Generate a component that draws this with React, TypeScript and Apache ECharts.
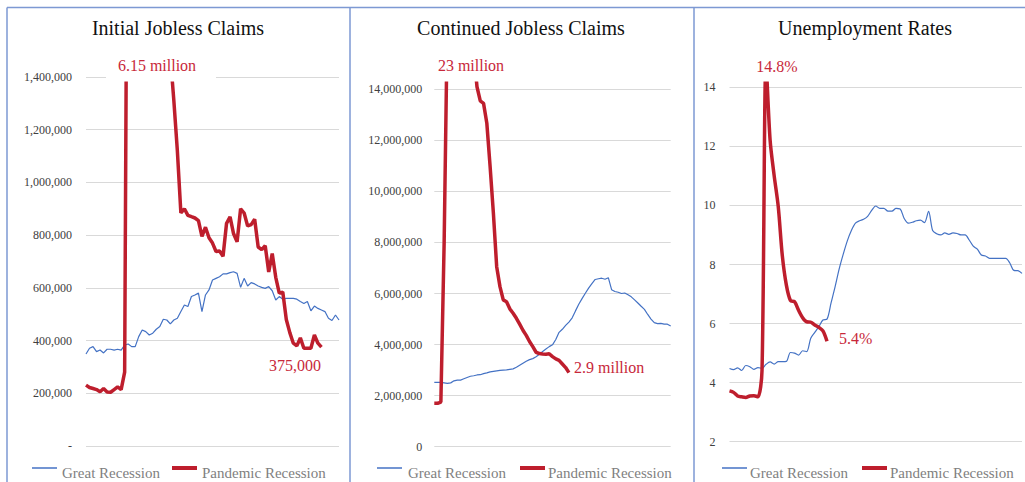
import React, { useEffect, useRef } from "react";
import * as echarts from "echarts";

// ---- Data ----
const periods: string[] = Array.from({ length: 73 }, (_, i) => String(i + 1));

const greatInitial = [
  349000, 371000, 377000, 358000, 364000, 353000, 367000, 367000, 364000, 367000,
  364000, 383000, 387000, 377000, 377000, 415000, 440000, 434000, 421000, 428000,
  443000, 453000, 481000, 478000, 463000, 478000, 485000, 510000, 535000, 529000,
  567000, 573000, 580000, 510000, 573000, 592000, 630000, 636000, 642000, 653000,
  653000, 658000, 661000, 655000, 602000, 636000, 607000, 620000, 615000, 607000,
  602000, 598000, 605000, 589000, 554000, 567000, 557000, 560000, 560000, 560000,
  557000, 548000, 541000, 548000, 513000, 531000, 522000, 516000, 510000, 485000,
  476000, 497000, 478000,
];
const pandemicInitial = [
  231000, 222000, 218000, 214000, 206000, 218000, 205000, 204000, 214000, 224000,
  214000, 280000, 2914000, 6150000, 5500000, 4800000, 4200000, 3700000, 3200000, 2800000,
  2400000, 2100000, 1900000, 1700000, 1480000, 1310000, 1120000, 884000, 900000, 875000,
  870000, 865000, 855000, 795000, 830000, 790000, 770000, 738000, 740000, 720000,
  845000, 869000, 805000, 775000, 900000, 884000, 835000, 840000, 860000, 755000,
  745000, 760000, 660000, 730000, 640000, 580000, 584000, 480000, 430000, 390000,
  380000, 410000, 371000, 371000, 371000, 421000, 390000, 375000,
];

const greatContinued = [
  2520000, 2520000, 2520000, 2500000, 2480000, 2500000, 2580000, 2610000, 2610000, 2660000,
  2710000, 2760000, 2780000, 2810000, 2820000, 2860000, 2890000, 2930000, 2950000, 2970000,
  2990000, 3000000, 3010000, 3030000, 3050000, 3110000, 3190000, 3270000, 3350000, 3410000,
  3450000, 3520000, 3620000, 3730000, 3830000, 3920000, 3990000, 4200000, 4480000, 4600000,
  4750000, 4880000, 5050000, 5320000, 5580000, 5800000, 6010000, 6210000, 6390000, 6550000,
  6580000, 6600000, 6560000, 6620000, 6150000, 6080000, 6050000, 6000000, 6020000, 5950000,
  5870000, 5750000, 5630000, 5500000, 5380000, 5180000, 5000000, 4860000, 4820000, 4830000,
  4800000, 4800000, 4730000,
];
const pandemicContinued = [
  1700000, 1700000, 1750000, 8000000, 17000000, 21000000, 23000000, 22500000, 21000000, 20000000,
  18500000, 17000000, 15500000, 14100000, 13550000, 13450000, 12670000, 10970000, 9140000, 7050000,
  6270000, 5750000, 5680000, 5400000, 5230000, 5030000, 4800000, 4560000, 4360000, 4120000,
  3920000, 3700000, 3650000, 3630000, 3620000, 3640000, 3530000, 3440000, 3380000, 3240000,
  3100000, 2900000,
];

const greatUnemp = [
  4.48, 4.44, 4.5, 4.41, 4.58, 4.54, 4.45, 4.51, 4.48, 4.62,
  4.7, 4.63, 4.71, 4.71, 4.72, 5.02, 5.0, 4.93, 5.08, 5.05,
  5.5, 5.7, 5.9, 6.12, 6.15, 6.7, 7.25, 7.85, 8.35, 8.8,
  9.15, 9.4, 9.48, 9.53, 9.63, 9.83, 9.98, 9.9, 9.9, 9.81,
  9.81, 9.9, 9.88, 9.56, 9.4, 9.43, 9.48, 9.5, 9.42, 9.8,
  9.15, 9.04, 9.0, 9.07, 9.02, 9.07, 9.05, 9.0, 9.0, 8.83,
  8.62, 8.52, 8.32, 8.29, 8.21, 8.21, 8.21, 8.21, 8.21, 8.05,
  7.8, 7.79, 7.7,
];
const pandemicUnemp = [
  3.72, 3.67, 3.55, 3.52, 3.5, 3.55, 3.56, 3.52, 4.4, 14.8,
  12.2, 11.0, 9.96, 8.3, 7.3, 6.78, 6.74, 6.45, 6.2, 6.06,
  6.05, 5.95, 5.87, 5.75, 5.4,
];

const titles = ["Initial Jobless Claims", "Continued Jobless Claims", "Unemployment Rates"];
const seriesNames = ["Great Recession", "Pandemic Recession"];
const peakLabels = ["6.15 million", "23 million", "14.8%"];
const endLabels = ["375,000", "2.9 million", "5.4%"];

// ---- Layout / style ----
const FONT = "'Liberation Serif', 'Times New Roman', serif";
const BLUE = "#4472c4";
const RED = "#be1e2d";
const RED_TEXT = "#c8283a";
const GRID_LINE = "#d9d9d9";
const BORDER = "#7d99d3";

const panels = [
  { left: 86, right: 339, yMin: 446, yTopTick: 77, min: 0, topTick: 1400000, max: 1480000, interval: 200000, margin: 14,
    titleX: 178, peak: { cx: 157, y: 65, box: [106, 50, 110, 31.5] }, end: { x: 295, y: 365, align: "center" },
    legend: { b: [32, 57], bt: 62, r: [172, 197], rt: 202 }, smooth: false },
  { left: 434.3, right: 670.7, yMin: 446.7, yTopTick: 89.3, min: 0, topTick: 14000000, max: 15200000, interval: 2000000, margin: 12,
    titleX: 521, peak: { cx: 471, y: 65, box: [432, 50, 78, 31.5] }, end: { x: 574, y: 367, align: "left" },
    legend: { b: [377, 402], bt: 408, r: [520, 545], rt: 548 }, smooth: false },
  { left: 729.5, right: 1022, yMin: 441.7, yTopTick: 87.3, min: 2, topTick: 14, max: 15, interval: 2, margin: 14,
    titleX: 865, peak: { cx: 777, y: 66, box: [752, 50, 50, 31.5] }, end: { x: 839, y: 338, align: "left" },
    legend: { b: [722, 747], bt: 750, r: [862, 887], rt: 890 }, smooth: 0.3 },
];

const seriesData = [
  [greatInitial, pandemicInitial],
  [greatContinued, pandemicContinued],
  [greatUnemp, pandemicUnemp],
];

const labelFormatters = [
  (v: number) => (v === 0 ? "-" : v.toLocaleString("en-US")),
  (v: number) => v.toLocaleString("en-US"),
  (v: number) => String(v),
];

export default function App() {
  const ref = useRef<HTMLDivElement>(null);

  useEffect(() => {
    if (!ref.current) return;
    const chart = echarts.init(ref.current, undefined, { renderer: "svg" });

    const grids: any[] = [];
    const xAxes: any[] = [];
    const yAxes: any[] = [];
    const series: any[] = [];
    const graphics: any[] = [];

    panels.forEach((p, k) => {
      const plotH = ((p.yMin - p.yTopTick) * (p.max - p.min)) / (p.topTick - p.min);
      const top = p.yMin - plotH;
      grids.push({ left: p.left, top, width: p.right - p.left, height: plotH, containLabel: false });
      xAxes.push({
        type: "category", gridIndex: k, data: periods, boundaryGap: false, show: false,
      });
      yAxes.push({
        type: "value", gridIndex: k, min: p.min, max: p.max, interval: p.interval,
        axisLine: { show: false }, axisTick: { show: false },
        splitLine: { show: true, showMaxLine: false, lineStyle: { color: GRID_LINE, width: 1 } },
        axisLabel: {
          showMaxLabel: false, margin: p.margin, color: "#404040", fontSize: 12, fontFamily: FONT,
          formatter: labelFormatters[k],
        },
      });
      const [g, pd] = seriesData[k];
      series.push({
        name: seriesNames[0], type: "line", xAxisIndex: k, yAxisIndex: k, data: g,
        symbol: "none", smooth: p.smooth, lineStyle: { color: BLUE, width: 1.2 }, itemStyle: { color: BLUE }, z: 2,
      });
      series.push({
        name: seriesNames[1], type: "line", xAxisIndex: k, yAxisIndex: k, data: pd,
        symbol: "none", smooth: p.smooth, lineStyle: { color: RED, width: 3.5 }, itemStyle: { color: RED }, z: 3,
      });

      // title
      graphics.push({
        type: "text", x: p.titleX, y: 28, z: 100,
        style: { text: titles[k], fill: "#111", font: `20px ${FONT}`, textAlign: "center", textVerticalAlign: "middle" },
      });
      // peak label with white box
      const [bx, by, bw, bh] = p.peak.box;
      graphics.push({ type: "rect", shape: { x: bx, y: by, width: bw, height: bh }, style: { fill: "#fff" }, z: 100 });
      graphics.push({
        type: "text", x: p.peak.cx, y: p.peak.y, z: 101,
        style: { text: peakLabels[k], fill: RED_TEXT, font: `16px ${FONT}`, textAlign: "center", textVerticalAlign: "middle" },
      });
      graphics.push({
        type: "text", x: p.end.x, y: p.end.y, z: 101,
        style: { text: endLabels[k], fill: RED_TEXT, font: `16px ${FONT}`, textAlign: p.end.align, textVerticalAlign: "middle" },
      });
      // legend
      const L = p.legend;
      graphics.push({ type: "line", shape: { x1: L.b[0], y1: 468, x2: L.b[1], y2: 468 }, style: { stroke: BLUE, lineWidth: 1.5 }, z: 100 });
      graphics.push({
        type: "text", x: L.bt, y: 473, z: 100,
        style: { text: seriesNames[0], fill: "#7f7f7f", font: `15px ${FONT}`, textAlign: "left", textVerticalAlign: "middle" },
      });
      graphics.push({ type: "line", shape: { x1: L.r[0], y1: 468, x2: L.r[1], y2: 468 }, style: { stroke: RED, lineWidth: 4 }, z: 100 });
      graphics.push({
        type: "text", x: L.rt, y: 473, z: 100,
        style: { text: seriesNames[1], fill: "#7f7f7f", font: `15px ${FONT}`, textAlign: "left", textVerticalAlign: "middle" },
      });
    });

    // panel borders
    graphics.push({ type: "line", shape: { x1: 7, y1: 7.5, x2: 1025, y2: 7.5 }, style: { stroke: BORDER, lineWidth: 1.5 }, z: 110 });
    [7, 350, 694].forEach((x) => {
      graphics.push({ type: "line", shape: { x1: x, y1: 7.5, x2: x, y2: 482 }, style: { stroke: BORDER, lineWidth: 1.5 }, z: 110 });
    });

    chart.setOption({
      animation: false,
      backgroundColor: "#fff",
      grid: grids,
      xAxis: xAxes,
      yAxis: yAxes,
      series,
      graphic: { elements: graphics },
    });

    return () => chart.dispose();
  }, []);

  return <div ref={ref} style={{ position: "absolute", left: 0, top: 0, width: 1025, height: 482 }} />;
}
